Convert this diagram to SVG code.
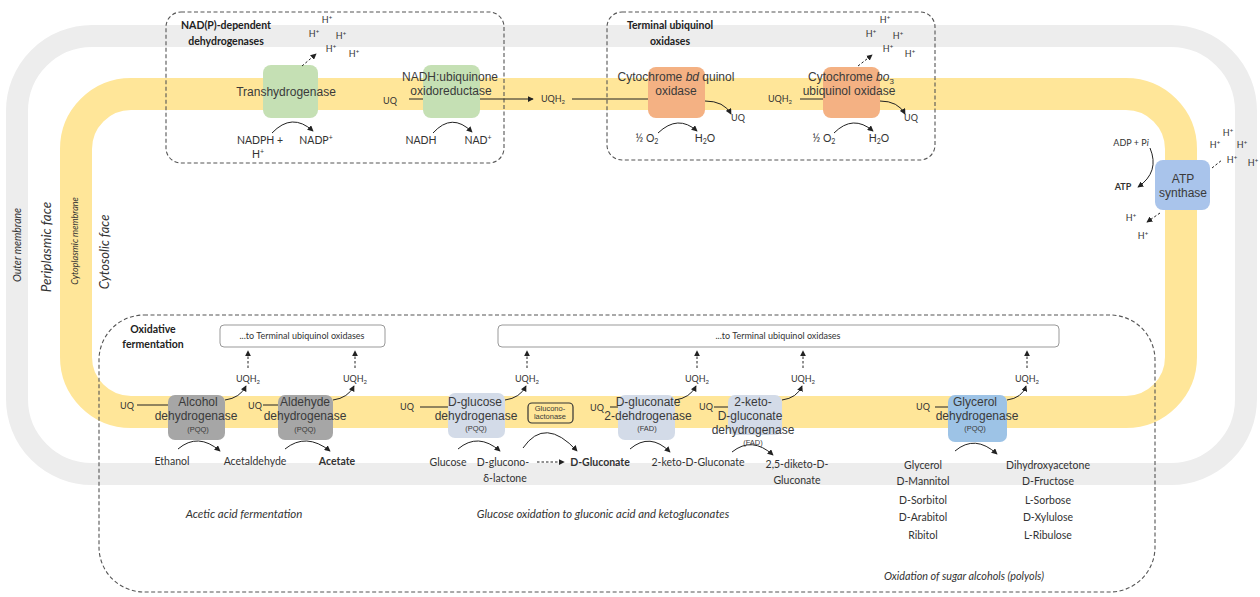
<svg xmlns="http://www.w3.org/2000/svg" width="1260" height="597" viewBox="0 0 1260 597">
<defs>
<marker id="ah" viewBox="0 0 8 8" refX="7" refY="4" markerWidth="6" markerHeight="6" markerUnits="userSpaceOnUse" orient="auto"><path d="M0,0 L8,4 L0,8 z" fill="#222"/></marker>
<style>
.lbl{font-family:Lato,"Liberation Sans",sans-serif;fill:#333;font-size:10.5px}
.sm{font-family:Lato,"Liberation Sans",sans-serif;fill:#333;font-size:9px}
.sm tspan{fill:#333}
.enz{font-family:"Liberation Sans",Arial,sans-serif;fill:#3a3a3a;font-size:12px;text-anchor:middle}
.cof{font-family:"Liberation Sans",Arial,sans-serif;fill:#3a3a3a;font-size:7.5px;text-anchor:middle}
.ttl{font-family:Lato,"Liberation Sans",sans-serif;fill:#222;font-size:10.5px;font-weight:bold;text-anchor:middle}
.it{font-family:Lato,"Liberation Sans",sans-serif;fill:#333;font-style:italic;text-anchor:middle}
.c{text-anchor:middle}
.dash{fill:none;stroke:#555;stroke-width:1.1;stroke-dasharray:4 2.5}
.tbox{fill:#fff;stroke:#999;stroke-width:1}
.ln{fill:none;stroke:#222;stroke-width:1}
.dl{fill:none;stroke:#222;stroke-width:1;stroke-dasharray:2.5 2}
</style>
</defs>
<rect width="1260" height="597" fill="#fff"/>
<g id="membranes">
<rect x="17" y="36" width="1229" height="438" rx="75" fill="none" stroke="#ededed" stroke-width="22"/>
<rect x="76" y="94" width="1105" height="318" rx="55" fill="none" stroke="#ffe699" stroke-width="32"/>
<text class="it" font-size="10.5" transform="translate(21,245) rotate(-90)">Outer membrane</text>
<text class="it" font-size="13.5" transform="translate(51,247) rotate(-90)">Periplasmic face</text>
<text class="it" font-size="9" transform="translate(78,241) rotate(-90)">Cytoplasmic membrane</text>
<text class="it" font-size="13" transform="translate(109,252) rotate(-90)">Cytosolic face</text>
</g>
<g id="group-nadp">
<rect class="dash" x="166" y="12" width="338" height="151" rx="15"/>
<text class="ttl" x="226" y="29">NAD(P)-dependent</text>
<text class="ttl" x="226" y="45">dehydrogenases</text>
</g>
<g id="group-terminal">
<rect class="dash" x="607" y="12" width="328" height="148" rx="15"/>
<text class="ttl" x="670" y="29">Terminal ubiquinol</text>
<text class="ttl" x="670" y="45">oxidases</text>
</g>
<g id="group-oxidative">
<rect class="dash" x="99" y="315" width="1056" height="277" rx="45"/>
<text class="ttl" x="153" y="333">Oxidative</text>
<text class="ttl" x="153" y="348">fermentation</text>
<text class="it" font-size="11.5" x="244" y="518">Acetic acid fermentation</text>
<text class="it" font-size="11.3" x="603" y="518">Glucose oxidation to gluconic acid and ketogluconates</text>
<text class="it" font-size="10.8" x="964" y="580">Oxidation of sugar alcohols (polyols)</text>
</g>
<g id="tobox1">
<rect class="tbox" x="220" y="325" width="165" height="22" rx="4"/>
<text class="sm c" x="302" y="339">...to Terminal ubiquinol oxidases</text>
</g>
<g id="tobox2">
<rect class="tbox" x="498" y="325" width="561" height="22" rx="4"/>
<text class="sm c" x="778" y="339">...to Terminal ubiquinol oxidases</text>
</g>
<g id="transhydrogenase">
<rect x="263" y="65" width="55" height="53" rx="8" fill="#c5e0b4"/>
<text class="enz" x="286" y="96">Transhydrogenase</text>
<text class="lbl c" x="260" y="144">NADPH +</text>
<text class="lbl c" x="258" y="158">H<tspan font-size="7" dy="-4">+</tspan></text>
<text class="lbl c" x="316" y="144">NADP<tspan font-size="7" dy="-4">+</tspan></text>
<text class="sm c" x="327" y="23">H<tspan font-size="6" dy="-3">+</tspan></text>
<text class="sm c" x="314" y="37">H<tspan font-size="6" dy="-3">+</tspan></text>
<text class="sm c" x="341" y="39">H<tspan font-size="6" dy="-3">+</tspan></text>
<text class="sm c" x="331" y="52">H<tspan font-size="6" dy="-3">+</tspan></text>
<text class="sm c" x="354" y="57">H<tspan font-size="6" dy="-3">+</tspan></text>
</g>
<g id="nadh-oxidoreductase">
<rect x="423" y="65" width="57" height="53" rx="8" fill="#c5e0b4"/>
<text class="enz" x="450" y="81">NADH:ubiquinone</text>
<text class="enz" x="451" y="95">oxidoreductase</text>
<text class="sm c" x="390" y="104">UQ</text>
<text class="lbl c" x="421" y="144">NADH</text>
<text class="lbl c" x="478" y="144">NAD<tspan font-size="7" dy="-4">+</tspan></text>
<text class="sm c" x="553" y="102">UQH<tspan font-size="6" dy="2">2</tspan></text>
</g>
<g id="cytochrome-bd">
<rect x="648" y="67" width="57" height="51" rx="8" fill="#f4b183"/>
<text class="enz" x="676" y="81">Cytochrome <tspan font-style="italic">bd</tspan> quinol</text>
<text class="enz" x="676" y="95">oxidase</text>
<text class="sm c" x="738" y="121">UQ</text>
<text class="lbl c" x="647" y="142">½ O<tspan font-size="7" dy="2">2</tspan></text>
<text class="lbl c" x="705" y="142">H<tspan font-size="7" dy="2">2</tspan><tspan dy="-2">O</tspan></text>
</g>
<g id="cytochrome-bo3">
<rect x="823" y="67" width="57" height="51" rx="8" fill="#f4b183"/>
<text class="enz" x="851" y="81">Cytochrome <tspan font-style="italic">bo</tspan><tspan font-size="8" dy="3">3</tspan></text>
<text class="enz" x="849" y="95">ubiquinol oxidase</text>
<text class="sm c" x="780" y="102">UQH<tspan font-size="6" dy="2">2</tspan></text>
<text class="sm c" x="911" y="121">UQ</text>
<text class="lbl c" x="824" y="142">½ O<tspan font-size="7" dy="2">2</tspan></text>
<text class="lbl c" x="879" y="142">H<tspan font-size="7" dy="2">2</tspan><tspan dy="-2">O</tspan></text>
<text class="sm c" x="885" y="23">H<tspan font-size="6" dy="-3">+</tspan></text>
<text class="sm c" x="871" y="37">H<tspan font-size="6" dy="-3">+</tspan></text>
<text class="sm c" x="898" y="39">H<tspan font-size="6" dy="-3">+</tspan></text>
<text class="sm c" x="888" y="52">H<tspan font-size="6" dy="-3">+</tspan></text>
<text class="sm c" x="910" y="57">H<tspan font-size="6" dy="-3">+</tspan></text>
</g>
<g id="atp-synthase">
<rect x="1155" y="160" width="55" height="50" rx="8" fill="#a9c4eb"/>
<text class="enz" x="1183" y="183">ATP</text>
<text class="enz" x="1183" y="197">synthase</text>
<text class="sm c" x="1131" y="146">ADP + P<tspan font-style="italic">i</tspan></text>
<text class="sm c" x="1123" y="190" font-weight="bold">ATP</text>
<text class="sm c" x="1131" y="221">H<tspan font-size="6" dy="-3">+</tspan></text>
<text class="sm c" x="1143" y="239">H<tspan font-size="6" dy="-3">+</tspan></text>
<text class="sm c" x="1228" y="136">H<tspan font-size="6" dy="-3">+</tspan></text>
<text class="sm c" x="1215" y="148">H<tspan font-size="6" dy="-3">+</tspan></text>
<text class="sm c" x="1242" y="148">H<tspan font-size="6" dy="-3">+</tspan></text>
<text class="sm c" x="1232" y="163">H<tspan font-size="6" dy="-3">+</tspan></text>
<text class="sm c" x="1253" y="166">H<tspan font-size="6" dy="-3">+</tspan></text>
</g>
<g id="alcohol-dh">
<rect x="168" y="395" width="57" height="45" rx="7" fill="#a6a6a6"/>
<text class="enz" x="198" y="406">Alcohol</text>
<text class="enz" x="196" y="420">dehydrogenase</text>
<text class="cof" x="198" y="432">(PQQ)</text>
<text class="sm c" x="127" y="409">UQ</text>
<text class="sm c" x="248" y="382">UQH<tspan font-size="6" dy="2">2</tspan></text>
<text class="lbl c" x="172" y="465">Ethanol</text>
<text class="lbl c" x="255" y="465">Acetaldehyde</text>
</g>
<g id="aldehyde-dh">
<rect x="278" y="395" width="55" height="45" rx="7" fill="#a6a6a6"/>
<text class="enz" x="305" y="406">Aldehyde</text>
<text class="enz" x="305" y="420">dehydrogenase</text>
<text class="cof" x="305" y="432">(PQQ)</text>
<text class="sm c" x="255" y="409">UQ</text>
<text class="sm c" x="355" y="382">UQH<tspan font-size="6" dy="2">2</tspan></text>
<text class="lbl c" x="337" y="465" font-weight="bold">Acetate</text>
</g>
<g id="glucose-dh">
<rect x="448" y="393" width="57" height="45" rx="7" fill="#d3dbe8"/>
<text class="enz" x="475" y="406">D-glucose</text>
<text class="enz" x="476" y="420">dehydrogenase</text>
<text class="cof" x="476" y="431">(PQQ)</text>
<text class="sm c" x="407" y="410">UQ</text>
<text class="sm c" x="527" y="382">UQH<tspan font-size="6" dy="2">2</tspan></text>
<text class="lbl c" x="448" y="466">Glucose</text>
<text class="lbl c" x="503" y="466">D-glucono-</text>
<text class="lbl c" x="505" y="482">δ-lactone</text>
</g>
<g id="gluconolactonase">
<rect x="528" y="403" width="45" height="20" rx="4" fill="#ffe699" stroke="#333" stroke-width="1.2"/>
<text class="cof" x="550" y="411" font-size="6.5">Glucono-</text>
<text class="cof" x="550" y="419" font-size="6.5">lactonase</text>
<text class="lbl c" x="600" y="466" font-weight="bold">D-Gluconate</text>
</g>
<g id="gluconate-2-dh">
<rect x="618" y="395" width="57" height="45" rx="7" fill="#d3dbe8"/>
<text class="enz" x="648" y="406">D-gluconate</text>
<text class="enz" x="648" y="420">2-dehdrogenase</text>
<text class="cof" x="647" y="431">(FAD)</text>
<text class="sm c" x="597" y="411">UQ</text>
<text class="sm c" x="697" y="382">UQH<tspan font-size="6" dy="2">2</tspan></text>
<text class="lbl c" x="698" y="466">2-keto-D-Gluconate</text>
</g>
<g id="ketogluconate-dh">
<rect x="728" y="395" width="54" height="40" rx="7" fill="#d3dbe8"/>
<text class="enz" x="753" y="406">2-keto-</text>
<text class="enz" x="750" y="420">D-gluconate</text>
<text class="enz" x="753" y="434">dehydrogenase</text>
<text class="cof" x="753" y="445">(FAD)</text>
<text class="sm c" x="706" y="410">UQ</text>
<text class="sm c" x="803" y="382">UQH<tspan font-size="6" dy="2">2</tspan></text>
<text class="lbl c" x="797" y="468">2,5-diketo-D-</text>
<text class="lbl c" x="797" y="484">Gluconate</text>
</g>
<g id="glycerol-dh">
<rect x="948" y="395" width="59" height="47" rx="7" fill="#9dc3e6"/>
<text class="enz" x="975" y="406">Glycerol</text>
<text class="enz" x="977" y="420">dehydrogenase</text>
<text class="cof" x="975" y="431">(PQQ)</text>
<text class="sm c" x="923" y="410">UQ</text>
<text class="sm c" x="1027" y="382">UQH<tspan font-size="6" dy="2">2</tspan></text>
<text class="lbl c" x="923" y="469">Glycerol</text>
<text class="lbl c" x="923" y="485">D-Mannitol</text>
<text class="lbl c" x="923" y="504">D-Sorbitol</text>
<text class="lbl c" x="923" y="521">D-Arabitol</text>
<text class="lbl c" x="923" y="539">Ribitol</text>
<text class="lbl c" x="1048" y="469">Dihydroxyacetone</text>
<text class="lbl c" x="1048" y="485">D-Fructose</text>
<text class="lbl c" x="1048" y="504">L-Sorbose</text>
<text class="lbl c" x="1048" y="521">D-Xylulose</text>
<text class="lbl c" x="1048" y="539">L-Ribulose</text>
</g>
<g id="connectors">
<path class="dl" d="M302,66 L316,54" marker-end="url(#ah)"/>
<path class="ln" d="M272,133 Q292,112 313,131" marker-end="url(#ah)"/>
<path class="ln" d="M409,99 L423,99"/>
<path class="ln" d="M433,133 Q452,112 472,132" marker-end="url(#ah)"/>
<path class="ln" d="M480,99 L533,99" marker-end="url(#ah)"/>
<path class="ln" d="M572,99 L648,99"/>
<path class="ln" d="M705,101 Q724,101 731,114" marker-end="url(#ah)"/>
<path class="ln" d="M658,133 Q678,114 697,131" marker-end="url(#ah)"/>
<path class="ln" d="M800,99 L823,99"/>
<path class="ln" d="M880,101 Q898,101 905,114" marker-end="url(#ah)"/>
<path class="ln" d="M834,133 Q853,114 873,131" marker-end="url(#ah)"/>
<path class="dl" d="M858,66 L872,55" marker-end="url(#ah)"/>
<path class="ln" d="M1150,148 Q1160,172 1138,187" marker-end="url(#ah)"/>
<path class="dl" d="M1160,213 L1147,222" marker-end="url(#ah)"/>
<path class="dl" d="M1212,168 L1222,160"/>
<path class="ln" d="M137,405 L168,405"/>
<path class="ln" d="M225,400 Q240,398 246,386" marker-end="url(#ah)"/>
<path class="dl" d="M248,368 L248,351" marker-end="url(#ah)"/>
<path class="ln" d="M178,449 Q198,432 220,451" marker-end="url(#ah)"/>
<path class="ln" d="M263,405 L278,405"/>
<path class="ln" d="M333,400 Q348,398 354,386" marker-end="url(#ah)"/>
<path class="dl" d="M355,368 L355,351" marker-end="url(#ah)"/>
<path class="ln" d="M285,449 Q306,432 330,451" marker-end="url(#ah)"/>
<path class="ln" d="M420,407 L448,407"/>
<path class="ln" d="M505,400 Q520,398 526,386" marker-end="url(#ah)"/>
<path class="dl" d="M527,368 L527,351" marker-end="url(#ah)"/>
<path class="ln" d="M458,449 Q478,432 500,451" marker-end="url(#ah)"/>
<path class="ln" d="M523,448 Q545,416 577,451" marker-end="url(#ah)"/>
<path class="dl" d="M537,462 L564,462" marker-end="url(#ah)"/>
<path class="ln" d="M610,407 L618,407"/>
<path class="ln" d="M675,400 Q690,398 696,386" marker-end="url(#ah)"/>
<path class="dl" d="M697,368 L697,351" marker-end="url(#ah)"/>
<path class="ln" d="M630,449 Q650,432 670,452" marker-end="url(#ah)"/>
<path class="ln" d="M714,407 L728,407"/>
<path class="ln" d="M782,400 Q797,398 802,386" marker-end="url(#ah)"/>
<path class="dl" d="M803,368 L803,351" marker-end="url(#ah)"/>
<path class="ln" d="M732,452 Q752,436 773,455" marker-end="url(#ah)"/>
<path class="ln" d="M935,407 L948,407"/>
<path class="ln" d="M1007,400 Q1022,398 1026,386" marker-end="url(#ah)"/>
<path class="dl" d="M1027,368 L1027,351" marker-end="url(#ah)"/>
<path class="ln" d="M955,451 Q975,434 997,454" marker-end="url(#ah)"/>
</g>
</svg>
